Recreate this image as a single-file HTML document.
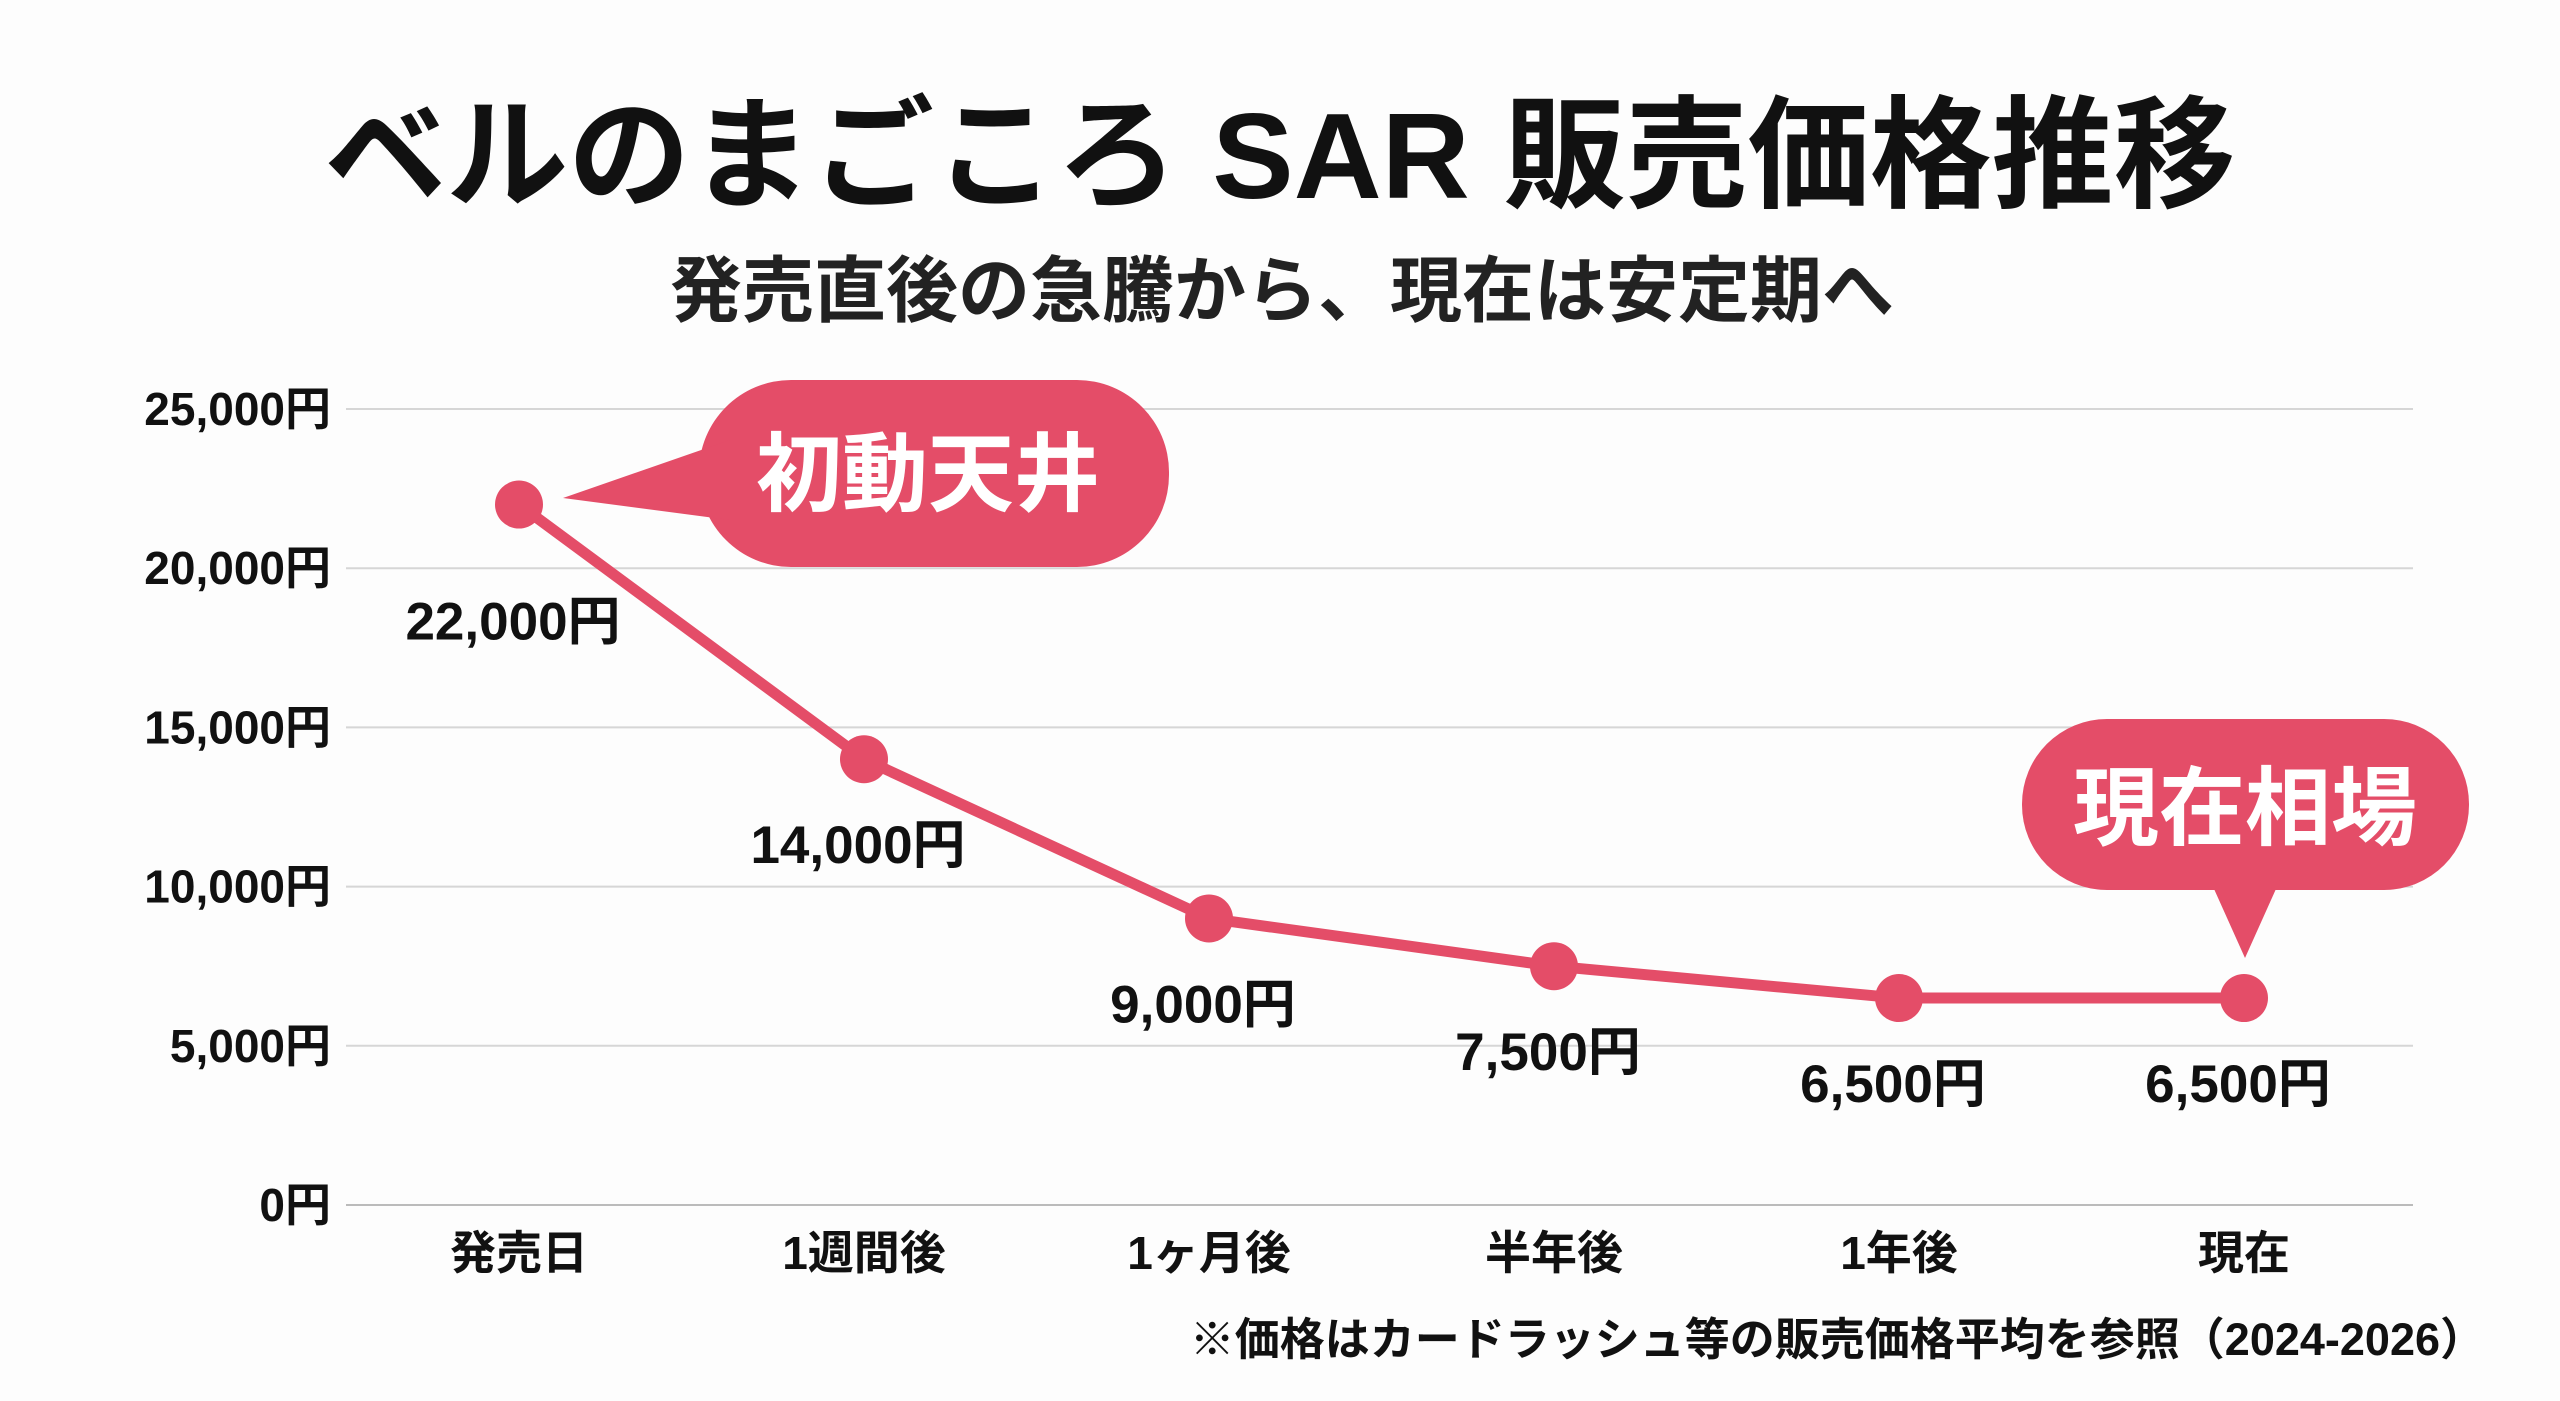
<!DOCTYPE html>
<html><head><meta charset="utf-8"><style>
html,body{margin:0;padding:0;background:#fdfdfd;}
body{width:2560px;height:1396px;overflow:hidden;font-family:"Liberation Sans","Noto Sans CJK JP",sans-serif;}
text{font-family:"Liberation Sans","Noto Sans CJK JP",sans-serif;font-weight:bold;}
</style></head><body>
<svg id="chart" width="2560" height="1396" xmlns="http://www.w3.org/2000/svg">
<text x="1280" y="198" text-anchor="middle" font-size="122" fill="#111">ベルのまごころ SAR 販売価格推移</text>
<text x="1282" y="316" text-anchor="middle" font-size="72" fill="#222">発売直後の急騰から、現在は安定期へ</text>
<g id="grid"></g><g id="ylabels"></g><g id="xlabels"></g><g id="series"></g><g id="vlabels"></g>
<g>
<rect x="699" y="380" width="470" height="187" rx="92" fill="#e44d68"/>
<polygon points="563,498 730,440 730,520" fill="#e44d68"/>
<text x="928" y="504" text-anchor="middle" font-size="86" fill="#fff">初動天井</text>
</g>
<g>
<rect x="2022" y="719" width="447" height="171" rx="85" fill="#e44d68"/>
<polygon points="2210,880 2280,880 2245,958" fill="#e44d68"/>
<text x="2245" y="838" text-anchor="middle" font-size="86" fill="#fff">現在相場</text>
</g>
<text x="2485" y="1355" text-anchor="end" font-size="45" fill="#111">※価格はカードラッシュ等の販売価格平均を参照（2024-2026）</text>
</svg>
<script>
const categories=["発売日","1週間後","1ヶ月後","半年後","1年後","現在"];
const prices=[22000,14000,9000,7500,6500,6500];
const yTicks=[0,5000,10000,15000,20000,25000];
const valueLabels=["22,000円","14,000円","9,000円","7,500円","6,500円","6,500円"];
const NS="http://www.w3.org/2000/svg";
const x=i=>519+i*345;
const y=v=>1205-v/25000*796;
function mk(t,a,p){const e=document.createElementNS(NS,t);for(const k in a)e.setAttribute(k,a[k]);p.appendChild(e);return e;}
const grid=document.getElementById('grid'),yl=document.getElementById('ylabels'),xl=document.getElementById('xlabels'),se=document.getElementById('series'),vl=document.getElementById('vlabels');
yTicks.forEach(v=>{
 const l=mk('line',{x1:346,x2:2413,y1:y(v),y2:y(v),stroke:v===0?'#bbb':'#d6d6d6','stroke-width':2},grid);
 
 
 const t=mk('text',{x:331,y:y(v)+16,'text-anchor':'end','font-size':46,fill:'#111'},yl);
 t.textContent=v.toLocaleString('en-US')+'円';
 
 
});
categories.forEach((c,i)=>{
 const t=mk('text',{x:x(i),y:1269,'text-anchor':'middle','font-size':46,fill:'#111'},xl);
 t.textContent=c;
 
 
});
const pl=mk('polyline',{points:prices.map((v,i)=>x(i)+','+y(v)).join(' '),fill:'none',stroke:'#e44d68','stroke-width':11,'stroke-linejoin':'round'},se);


prices.forEach((v,i)=>{
 const c=mk('circle',{cx:x(i),cy:y(v),r:24,fill:'#e44d68'},se);
 
 
 const t=mk('text',{x:x(i)-6,y:y(v)+(i===0?135:104),'text-anchor':'middle','font-size':53,fill:'#111'},vl);
 t.textContent=valueLabels[i];
 
 
});
</script>
</body></html>
